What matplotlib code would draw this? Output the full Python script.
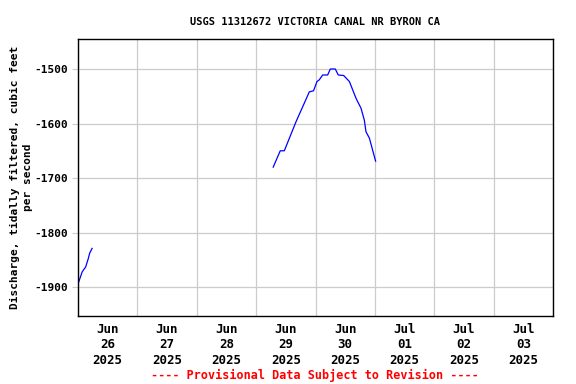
import numpy as np
import pandas as pd
import matplotlib
matplotlib.use("Agg")
import matplotlib.pyplot as plt

# data (hours after 2025-06-26 00:00, discharge in cfs)
seg1_hours = [0.0, 0.1, 1.7, 3.1, 4.2, 4.7, 5.7]
seg1_vals = [-1900, -1893, -1872, -1863, -1847, -1838, -1829]

seg2_hours = [78.9, 81.75, 83.4, 88.1, 93.5, 95.2, 96.6, 97.5, 98.9, 100.9,
              102.0, 104.0, 105.2, 107.4, 109.7, 112.4, 114.4, 115.75, 116.4,
              117.8, 119.1, 120.3]
seg2_vals = [-1680, -1650, -1650, -1597, -1542, -1540, -1523, -1520, -1511,
             -1511, -1500, -1500, -1511, -1512, -1523, -1554, -1572, -1594,
             -1615, -1627, -1649, -1669]

start = pd.Timestamp("2025-06-26")
day_labels = ["Jun\n26\n2025", "Jun\n27\n2025", "Jun\n28\n2025", "Jun\n29\n2025",
              "Jun\n30\n2025", "Jul\n01\n2025", "Jul\n02\n2025", "Jul\n03\n2025"]
yticks = [-1500, -1600, -1700, -1800, -1900]

plt.rcParams["font.family"] = "DejaVu Sans Mono"
plt.rcParams["font.weight"] = "bold"

fig = plt.figure(figsize=(5.76, 3.84), dpi=100)
ax = fig.add_axes([78/576, 68/384, 475/576, 277/384])

t1 = start + pd.to_timedelta(seg1_hours, unit="h")
t2 = start + pd.to_timedelta(seg2_hours, unit="h")
ax.plot(t1, seg1_vals, color="blue", lw=0.9)
ax.plot(t2, seg2_vals, color="blue", lw=0.9)

days = pd.date_range(start, periods=9, freq="D")
ax.set_xlim(days[0], days[-1])
ax.set_ylim(-1953, -1445)

# gridlines at midnight, labels at noon
ax.set_xticks(days, minor=False)
ax.set_xticklabels([])
ax.set_xticks(days[:-1] + pd.Timedelta(hours=12), minor=True)
ax.set_xticklabels(day_labels, minor=True, linespacing=1.25)
ax.tick_params(axis="x", which="both", length=0, labelsize=9, pad=5)
ax.set_yticks(yticks)
ax.set_yticklabels([str(v) for v in yticks])
ax.tick_params(axis="y", length=4, color="#cccccc", labelsize=8, pad=3)
ax.grid(True, which="major", color="#cccccc", lw=0.9)
ax.set_axisbelow(True)
for s in ax.spines.values():
    s.set_linewidth(1.0)

ax.set_title("USGS 11312672 VICTORIA CANAL NR BYRON CA", fontsize=7.5,
             fontweight="bold", pad=10)
ax.set_ylabel("Discharge, tidally filtered, cubic feet\nper second",
              fontsize=8, fontweight="bold", linespacing=1.3)
ax.yaxis.set_label_coords(-0.095, 0.5)

fig.text(315/576, 1 - 375/384, "---- Provisional Data Subject to Revision ----",
         color="red", fontsize=8.5, fontweight="bold", ha="center", va="center")

fig.savefig("out.png", dpi=100)
